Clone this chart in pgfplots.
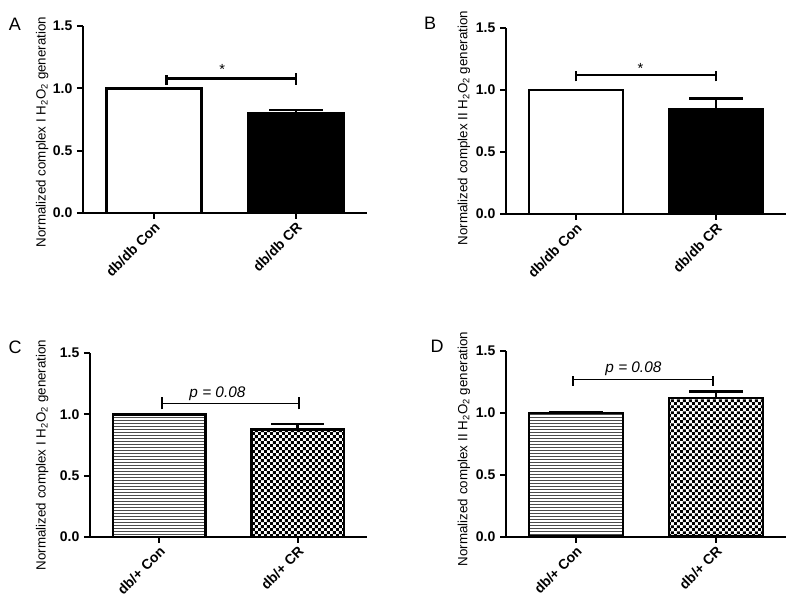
\documentclass[border=0pt]{standalone}
\usepackage{pgfplots}
\pgfplotsset{compat=1.18}
\usepackage{fontspec}
\setmainfont{Liberation Sans}
\usetikzlibrary{patterns}
\pgfdeclarepatternformonly{hlines}{\pgfpointorigin}{\pgfpoint{4pt}{2.25pt}}{\pgfpoint{4pt}{2.25pt}}{\pgfpathrectangle{\pgfpointorigin}{\pgfpoint{4pt}{0.75pt}}\pgfusepath{fill}}
\pgfdeclarepatternformonly{checker}{\pgfpointorigin}{\pgfpoint{4.4pt}{4.4pt}}{\pgfpoint{4.4pt}{4.4pt}}{\pgfpathrectangle{\pgfpointorigin}{\pgfpoint{2.2pt}{2.2pt}}\pgfpathrectangle{\pgfpoint{2.2pt}{2.2pt}}{\pgfpoint{2.2pt}{2.2pt}}\pgfusepath{fill}}
\pgfplotsset{
  panel/.style={
    scale only axis, anchor=south west,
    ymin=0, ymax=1.5, xmin=-0.5, xmax=1.5,
    ytick={0,0.5,1,1.5}, xtick={0,1},
    axis x line*=bottom, axis y line*=left,
    axis line style={line width=1.4pt, -},
    tick align=outside, major tick length=4.5pt,
    tick style={line width=1.4pt, black},
    y tick label style={/pgf/number format/.cd, fixed, fixed zerofill, precision=1, assume math mode=true, /tikz/.cd, font=\bfseries\fontsize{10.5}{12}\selectfont},
    x tick label style={font=\bfseries\fontsize{10.5}{12}\selectfont, rotate=45, anchor=east, yshift=-5pt, xshift=2pt},
    ylabel style={font=\fontsize{10}{12}\selectfont, anchor=center},
    clip=false,
    ybar, bar width=0.67, bar shift=0pt,
    error bars/y dir=plus, error bars/y explicit,
    error bars/error bar style={line width=2pt, black},
    error bars/error mark options={rotate=90, mark size=20pt, line width=2pt, black},
  },
  barA/.style={draw=black, line width=2pt},
}
\begin{document}
\begin{tikzpicture}
\useasboundingbox (0,0) rectangle (600pt,459.75pt);
% Panel A
\begin{axis}[panel, at={(62.25pt,300pt)}, width=213pt, height=140.25pt,
  xticklabels={db/db Con, db/db CR},
  ylabel={Normalized complex I H\textsubscript{2}O\textsubscript{2} generation},
  ylabel style={at={(axis description cs:-0.144,0.433)}}]
\addplot[barA, fill=white, error bars/y dir=none] coordinates {(0,1.0)};
\addplot[barA, fill=black] coordinates {(1,0.80) +- (0,0.025)};
\draw[line width=2pt] (axis cs:0.09,1.03) -- (axis cs:0.09,1.105) (axis cs:0.09,1.08) -- (axis cs:1,1.08) (axis cs:1,1.03) -- (axis cs:1,1.12);
\node[font=\fontsize{11}{12}\selectfont] at (axis cs:0.48,1.15) {*};
\end{axis}
% Panel B
\begin{axis}[panel, at={(379.5pt,299.25pt)}, width=210pt, height=139.5pt,
  xticklabels={db/db Con, db/db CR},
  ylabel={Normalized complex II H\textsubscript{2}O\textsubscript{2} generation},
  ylabel style={at={(axis description cs:-0.15,0.462)}}]
\addplot[barA, fill=white, error bars/y dir=none] coordinates {(0,1.0)};
\addplot[barA, fill=black] coordinates {(1,0.84) +- (0,0.09)};
\draw[line width=2pt] (axis cs:0,1.07) -- (axis cs:0,1.155) (axis cs:0,1.12) -- (axis cs:1,1.12) (axis cs:1,1.07) -- (axis cs:1,1.155);
\node[font=\fontsize{11}{12}\selectfont] at (axis cs:0.46,1.17) {*};
\end{axis}
% Panel C
\begin{axis}[panel, at={(67.5pt,57pt)}, width=207.75pt, height=138pt,
  xticklabels={db/+ Con, db/+ CR},
  ylabel={Normalized complex I H\textsubscript{2}O\textsubscript{2} generation},
  ylabel style={at={(axis description cs:-0.173,0.446)}}]
\addplot[barA, pattern=hlines, pattern color=black!70, error bars/y dir=none] coordinates {(0,1.0)};
\addplot[barA, pattern=checker, pattern color=black] coordinates {(1,0.875) +- (0,0.045)};
\draw[line width=1.1pt] (axis cs:0.02,1.04) -- (axis cs:0.02,1.14) (axis cs:0.02,1.09) -- (axis cs:1.01,1.09) (axis cs:1.01,1.04) -- (axis cs:1.01,1.14);
\node[font=\itshape\fontsize{11.5}{13}\selectfont] at (axis cs:0.42,1.165) {p = 0.08};
\end{axis}
% Panel D
\begin{axis}[panel, at={(379.5pt,57.2pt)}, width=210pt, height=139.3pt,
  xticklabels={db/+ Con, db/+ CR},
  ylabel={Normalized complex II H\textsubscript{2}O\textsubscript{2} generation},
  ylabel style={at={(axis description cs:-0.15,0.472)}}]
\addplot[barA, pattern=hlines, pattern color=black!70] coordinates {(0,1.0) +- (0,0.007)};
\addplot[barA, pattern=checker, pattern color=black] coordinates {(1,1.12) +- (0,0.055)};
\draw[line width=1.1pt] (axis cs:-0.02,1.22) -- (axis cs:-0.02,1.3) (axis cs:-0.02,1.27) -- (axis cs:0.98,1.27) (axis cs:0.98,1.22) -- (axis cs:0.98,1.3);
\node[font=\itshape\fontsize{11.5}{13}\selectfont] at (axis cs:0.41,1.36) {p = 0.08};
\end{axis}
\node[font=\fontsize{13.5}{15}\selectfont] at (11.25pt,441.75pt) {A};
\node[font=\fontsize{13.5}{15}\selectfont] at (322.5pt,442.5pt) {B};
\node[font=\fontsize{13.5}{15}\selectfont] at (11.25pt,199.5pt) {C};
\node[font=\fontsize{13.5}{15}\selectfont] at (327.75pt,200.25pt) {D};
\end{tikzpicture}
\end{document}
